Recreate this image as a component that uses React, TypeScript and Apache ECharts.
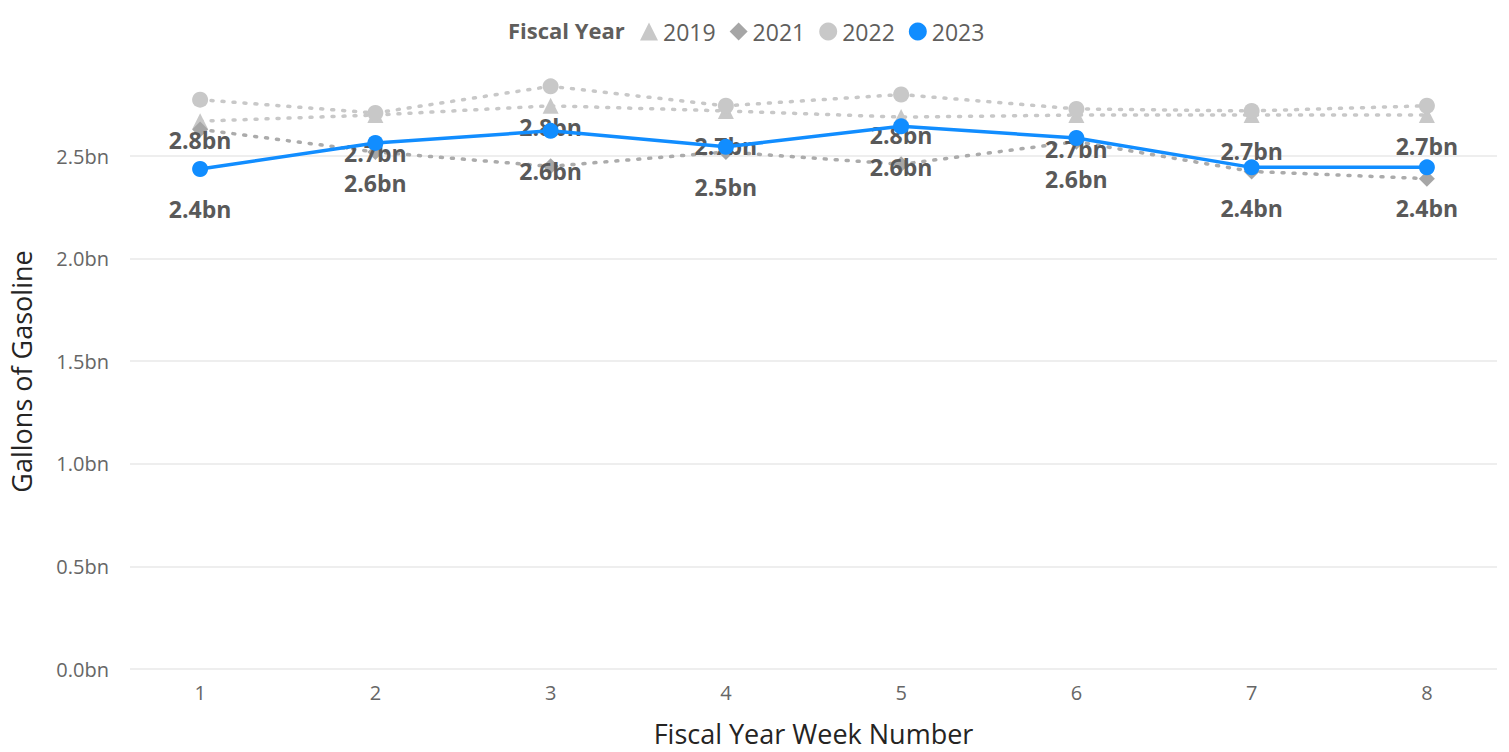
import React, { useEffect, useRef } from "react";
import * as echarts from "echarts";

const weeks = [1, 2, 3, 4, 5, 6, 7, 8];
const years = ["2019", "2021", "2022", "2023"];
const fy2019 = [2.67, 2.7, 2.745, 2.72, 2.69, 2.7, 2.7, 2.7];
const fy2021 = [2.63, 2.52, 2.45, 2.52, 2.46, 2.57, 2.425, 2.39];
const fy2022 = [2.775, 2.71, 2.84, 2.745, 2.8, 2.73, 2.72, 2.745];
const fy2023 = [2.437, 2.564, 2.623, 2.545, 2.645, 2.588, 2.445, 2.445];
const yTicks = [0, 0.5, 1.0, 1.5, 2.0, 2.5];

const FONT = "'Open Sans', 'Noto Sans', sans-serif";

export default function App() {
  const ref = useRef<HTMLDivElement>(null);
  useEffect(() => {
    if (!ref.current) return;
    const chart = echarts.init(ref.current, undefined, { renderer: "svg" });
    const pairs = (arr: number[]) => weeks.map((w, i) => [w, arr[i]]);
    const labelCfg = {
      show: true,
      position: "bottom",
      distance: 21,
      fontFamily: FONT,
      fontWeight: "bold",
      fontSize: 23,
      color: "#595959",
      formatter: (p: any) => p.value[1].toFixed(1) + "bn",
    };
    const dotted = (color: string) => ({
      color,
      width: 3.5,
      type: [2, 9],
      cap: "round",
    });
    chart.setOption({
      animation: false,
      textStyle: { fontFamily: FONT },
      graphic: [
        {
          type: "text",
          left: 508,
          top: 19,
          style: {
            text: "Fiscal Year",
            font: `bold 22px ${FONT}`,
            fill: "#605E5C",
          },
        },
      ],
      legend: {
        left: 635,
        top: 15,
        itemWidth: 18,
        itemHeight: 18,
        itemGap: 14,
        textStyle: { fontSize: 23, color: "#605E5C", fontFamily: FONT },
        data: [
          { name: years[0], icon: "triangle" },
          { name: years[1], icon: "diamond" },
          { name: years[2], icon: "circle" },
          { name: years[3], icon: "circle" },
        ],
      },
      grid: { left: 127, right: 12, top: 74, bottom: 77 },
      xAxis: {
        type: "value",
        min: 0.6,
        max: 8.4,
        minInterval: 1,
        maxInterval: 1,
        name: "Fiscal Year Week Number",
        nameLocation: "middle",
        nameGap: 51,
        nameTextStyle: { fontSize: 27, color: "#252423", fontFamily: FONT },
        axisLine: { show: false },
        axisTick: { show: false },
        splitLine: { show: false },
        axisLabel: {
          fontSize: 20,
          color: "#666666",
          margin: 13,
          showMinLabel: false,
          showMaxLabel: false,
          formatter: (v: number) => (Number.isInteger(v) && weeks.includes(v) ? String(v) : ""),
        },
      },
      yAxis: {
        type: "value",
        min: yTicks[0],
        max: 2.9,
        interval: 0.5,
        name: "Gallons of Gasoline",
        nameLocation: "middle",
        nameGap: 95,
        nameRotate: 90,
        nameTextStyle: { fontSize: 27, color: "#252423", fontFamily: FONT },
        axisLine: { show: false },
        axisTick: { show: false },
        splitLine: { show: true, showMaxLine: false, lineStyle: { color: "#E9E9E9", width: 1.5 } },
        axisLabel: {
          fontSize: 20,
          color: "#666666",
          margin: 21,
          showMaxLabel: false,
          formatter: (v: number) => (yTicks.includes(v) ? v.toFixed(1) + "bn" : ""),
        },
      },
      series: [
        {
          name: years[0],
          type: "line",
          data: pairs(fy2019),
          symbol: "triangle",
          symbolSize: 16,
          showAllSymbol: true,
          itemStyle: { color: "#C8C8C8" },
          lineStyle: dotted("#C8C8C8"),
          z: 2,
        },
        {
          name: years[1],
          type: "line",
          data: pairs(fy2021),
          symbol: "diamond",
          symbolSize: 16,
          itemStyle: { color: "#A6A6A6" },
          lineStyle: dotted("#ABABAB"),
          z: 2,
        },
        {
          name: years[2],
          type: "line",
          data: pairs(fy2022),
          symbol: "circle",
          symbolSize: 16,
          itemStyle: { color: "#C8C8C8" },
          lineStyle: dotted("#C8C8C8"),
          label: labelCfg,
          z: 3,
        },
        {
          name: years[3],
          type: "line",
          data: pairs(fy2023),
          symbol: "circle",
          symbolSize: 16,
          itemStyle: { color: "#118DFF" },
          lineStyle: { color: "#118DFF", width: 3.5 },
          label: labelCfg,
          z: 4,
        },
      ],
    });
    return () => chart.dispose();
  }, []);
  return (
    <div
      ref={ref}
      style={{ position: "absolute", left: 0, top: 0, width: 1509, height: 752 }}
    />
  );
}
